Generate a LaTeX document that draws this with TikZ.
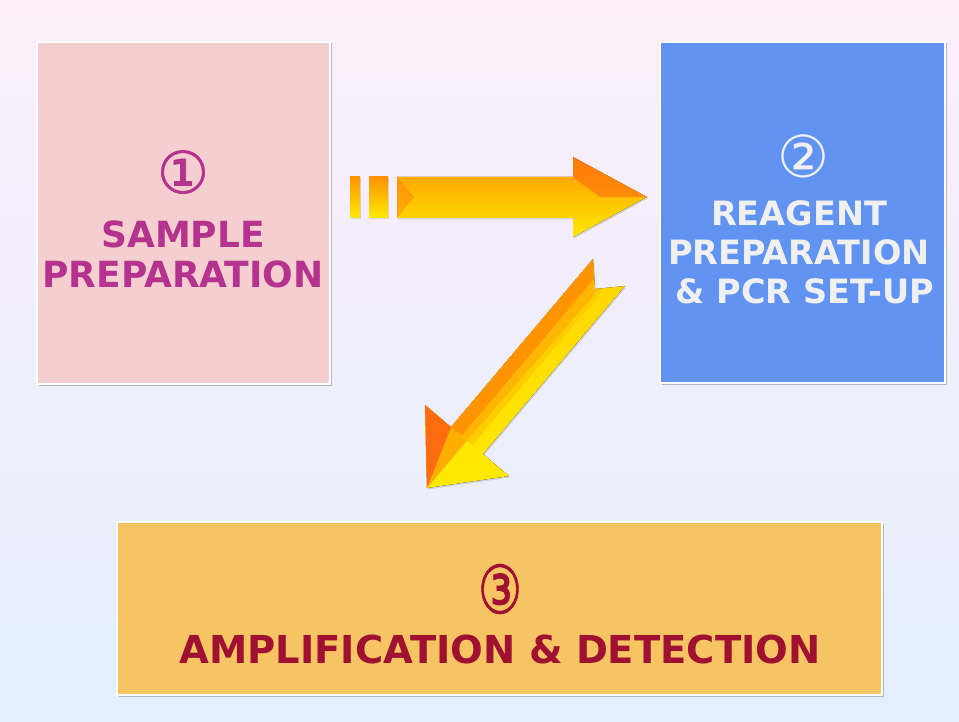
\documentclass[tikz,border=0pt]{standalone}
\usepackage{fontspec}
\setmainfont{DejaVu Sans}
\newfontfamily\circnum[FakeBold=1.2]{DejaVu Sans}
\usetikzlibrary{positioning,shadows}
\definecolor{bgtop}{HTML}{FCEEFB}
\definecolor{bgbot}{HTML}{E3EFFD}
\definecolor{samplefill}{HTML}{F5CFCF}
\definecolor{reagentfill}{HTML}{6193F3}
\definecolor{ampfill}{HTML}{F6C463}
\definecolor{sampletext}{HTML}{B5338E}
\definecolor{reagenttext}{HTML}{F0F0F0}
\definecolor{amptext}{HTML}{A01030}
\definecolor{arrorange}{HTML}{FF9400}
\definecolor{arryellow}{HTML}{FFEA00}
\definecolor{arrfacet}{HTML}{FF6410}

\begin{document}
\begin{tikzpicture}[x=1pt,y=-1pt,
  stagebox/.style={draw=white,line width=2.5pt,inner sep=0pt,
                   drop shadow={opacity=0.5,shadow xshift=1.5pt,shadow yshift=-1.5pt}},
  numtext/.style={inner sep=0pt,font=\fontsize{58}{58}\selectfont\circnum},
  steptext/.style={inner sep=0pt,align=center,font=\fontsize{36}{40}\selectfont\bfseries},
  blockarrow/.style={top color=arrorange,bottom color=arryellow,draw=none,
                     drop shadow={opacity=0.25,shadow xshift=1pt,shadow yshift=-1.5pt}},
  facet/.style={fill=arrfacet,opacity=0.55}]

  % background
  \fill[top color=bgtop,bottom color=bgbot] (0,0) rectangle (959,722);
  \useasboundingbox (0,0) rectangle (959,722);

  % stages
  \node[stagebox,fill=samplefill,minimum width=293pt,minimum height=342pt] (sample) at (183.5,213) {};
  \node[stagebox,fill=reagentfill,minimum width=285pt,minimum height=341pt] (reagent) at (802.5,212.5) {};
  \node[stagebox,fill=ampfill,minimum width=765pt,minimum height=173pt] (amp) at (499.5,608.5) {};

  \node[numtext,text=sampletext] (one) at (183,172) {①};
  \node[steptext,text=sampletext] (sampletxt) at (183,254) {SAMPLE\\PREPARATION};
  \node[numtext,text=reagenttext,font=\fontsize{58}{58}\selectfont] (two) at (803,156) {②};
  \node[steptext,text=reagenttext,font=\fontsize{33.5}{39}\selectfont\bfseries] (reagenttxt) at (799,252) {REAGENT\\PREPARATION\\\ \& PCR SET-UP};
  \node[numtext,text=amptext] (three) at (500,589) {\scalebox{0.85}[1.15]{③}};
  \node[steptext,text=amptext,font=\fontsize{38.5}{40}\selectfont\bfseries] (amptxt) at (500,649) {AMPLIFICATION \& DETECTION};

  % striped arrow: sample -> reagent
  \coordinate (htip) at (647,197);
  \fill[blockarrow] (350,177) rectangle (360,218);
  \fill[blockarrow] (369,177) rectangle (388,218);
  \fill[blockarrow] (397,177) -- (573,177) -- (573,157) -- (htip) -- (573,237) -- (573,218) -- (397,218) -- cycle;
  \fill[facet] (573,157) -- (htip) -- (600,197) -- (573,177) -- cycle;
  \fill[facet,opacity=0.35] (397,177) -- (414,197) -- (397,218) -- cycle;

  % notched arrow: reagent -> amplification
  \coordinate (dtip) at (427,488);
  \fill[blockarrow,top color=arryellow!75!arrorange,bottom color=arryellow]
    (593,259) -- (595,289) -- (625,286) -- (483,454) -- (509,476) -- (dtip) -- (425,405) -- (451,427) -- cycle;
  \fill[arrorange] (593,259) -- (594.1,279.3) -- (461.7,436.1) -- (451,427) -- cycle;
  \fill[arrorange!60!arryellow] (594.1,279.3) -- (594.7,289.4) -- (599.7,288.9) -- (467,440.6) -- (461.7,436.1) -- cycle;
  \fill[arrorange!35!arryellow] (599.7,288.9) -- (604.7,288.3) -- (472.3,445.1) -- (467,440.6) -- cycle;
  \fill[arrorange!70!arryellow] (451,427) -- (467,440.6) -- (dtip) -- cycle;
  \fill[arrfacet!85!arrorange] (425,405) -- (451,427) -- (dtip) -- cycle;
\end{tikzpicture}
\end{document}
